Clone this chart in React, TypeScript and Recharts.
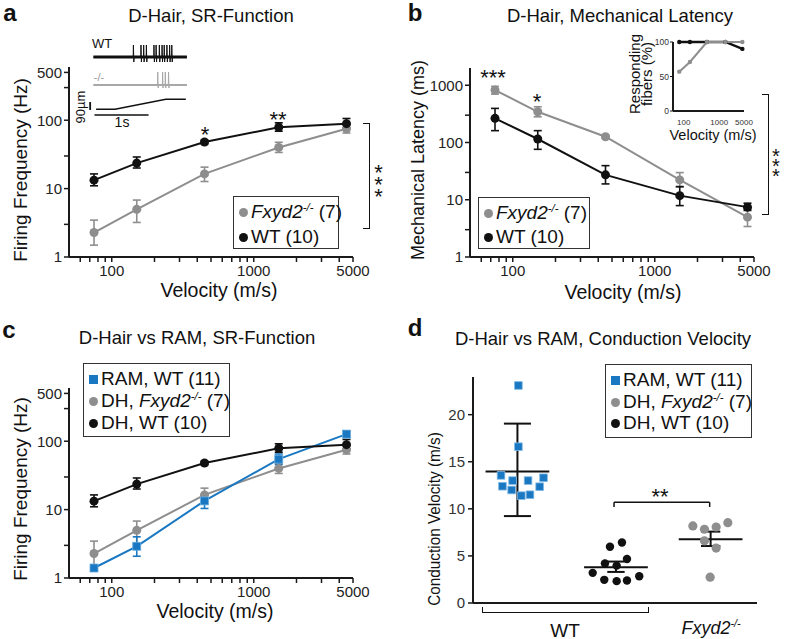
import React from "react";
import {
    LineChart,
    Line,
    XAxis,
    YAxis,
    ErrorBar,
    ScatterChart,
    Scatter,
    ReferenceLine,
} from "recharts";

const FONT = '"Liberation Sans", Arial, Helvetica, sans-serif';
const BLACK = "#111111";
const GREY = "#8e8e8e";
const BLUE = "#1a78c2";
const AXIS = "#1a1a1a";

// ramp velocities, shared by a, b, c
const velocities = [75, 150, 450, 1500, 4500];
const velTicks = [60, 70, 80, 90, 100, 200, 300, 400, 500, 600, 700, 800, 900, 1000, 2000, 3000, 4000, 5000];
const velLabels = [100, 1000, 5000];
const freqTicks = [1, 3, 10, 30, 100, 300, 500];
const freqLabels = [1, 10, 100, 500];
const latTicks = [1, 3, 10, 30, 100, 300, 1000];
const latLabels = [1, 10, 100, 1000];

// firing frequency (Hz): mean, lower end, upper end of error bar
const dhWtFreq = [13.3, 23.6, 48, 79, 89];
const dhWtFreqLo = [11, 20, 45, 69, 77];
const dhWtFreqHi = [16.4, 29, 51, 91.6, 106];
const dhKoFreq = [2.28, 4.98, 16.4, 40, 75];
const dhKoFreqLo = [1.49, 3.2, 12.7, 33.8, 65];
const dhKoFreqHi = [3.46, 6.8, 20.6, 47.6, 86.5];
const ramWtFreq = [1.4, 2.91, 13.4, 54.7, 127];
const ramWtFreqLo = [1.4, 2.08, 10.4, 46, 114];
const ramWtFreqHi = [1.4, 4.0, 16.2, 65, 142];

// mechanical latency (ms)
const koLat = [822, 344, 126, 22.2, 4.97];
const koLatLo = [700, 281, 118, 16.6, 3.41];
const koLatHi = [955, 421, 134, 29.8, 6.86];
const wtLat = [264, 115, 27.2, 11.8, 7.43];
const wtLatLo = [161, 76, 18.9, 7.9, 6.5];
const wtLatHi = [394, 161, 39.4, 17, 8.7];

// responding fibers (%)
const respWt = [100, 100, 100, 100, 90];
const respKo = [57, 71, 100, 100, 100];
const respTicks = [0, 50, 100];

// example recordings: spike times (s), ramp timing (s)
const wtSpikes = [0.74, 0.88, 0.93, 0.98, 1.12, 1.16, 1.22, 1.27, 1.31, 1.36, 1.41, 1.45];
const koSpikes = [1.19, 1.28, 1.33, 1.39];
const rampTimes = [0.05, 0.4, 1.34, 1.71];
const rampDisp = [0, 0, 90, 90];

// conduction velocity (m/s), x = jitter around group
const ramCvX = [0.01, 0.01, -0.17, -0.155, -0.05, -0.06, 0.04, 0.13, 0.11, 0.23, 0.27];
const ramCv = [23.1, 16.6, 13.55, 12.4, 13.0, 12.0, 11.4, 11.5, 13.0, 12.35, 13.3];
const dhWtCvX = [-0.062, 0.062, -0.114, 0.007, 0.114, -0.241, -0.121, 0.007, 0.114, 0.241];
const dhWtCv = [5.97, 6.42, 4.2, 3.97, 4.67, 3.2, 2.46, 2.32, 2.39, 2.84];
const dhKoCvX = [-0.184, -0.064, 0.057, 0.178, -0.064, 0.057, -0.005];
const dhKoCv = [8.18, 7.83, 8.07, 8.53, 6.6, 5.83, 2.74];
const cvMean = [13.97, 3.79, 6.78];
const cvLo = [9.23, 3.3, 6.05];
const cvHi = [19.05, 4.4, 7.58];
const cvTicks = [0, 5, 10, 15, 20];

// layout for d
const groupPos = [0, 1.02, 2.0];
const meanHalf = 0.33;
const capHalf = [0.14, 0.09, 0.1];

const errPair = (m: number[], lo: number[], hi: number[], i: number) => [m[i] - lo[i], hi[i] - m[i]];

const freqRows = velocities.map((v, i) => ({
    v,
    wt: dhWtFreq[i],
    wtErr: errPair(dhWtFreq, dhWtFreqLo, dhWtFreqHi, i),
    ko: dhKoFreq[i],
    koErr: errPair(dhKoFreq, dhKoFreqLo, dhKoFreqHi, i),
    ram: ramWtFreq[i],
    ramErr: errPair(ramWtFreq, ramWtFreqLo, ramWtFreqHi, i),
}));

const latRows = velocities.map((v, i) => ({
    v,
    wt: wtLat[i],
    wtErr: errPair(wtLat, wtLatLo, wtLatHi, i),
    ko: koLat[i],
    koErr: errPair(koLat, koLatLo, koLatHi, i),
}));

const respRows = velocities.map((v, i) => ({ v, wt: respWt[i], ko: respKo[i] }));

// trace drawing offsets (chart units)
function spikeTrace(spikes: number[], base: number, up: number, down: number) {
    const pts = [{ t: 0, y: base }];
    spikes.forEach((s) => {
        pts.push({ t: s - 0.004, y: base });
        pts.push({ t: s, y: base + up });
        pts.push({ t: s + 0.008, y: base - down });
        pts.push({ t: s + 0.014, y: base });
    });
    pts.push({ t: 1.73, y: base });
    return pts;
}
const wtTrace = spikeTrace(wtSpikes, 61, 12, 5);
const koTrace = spikeTrace(koSpikes, 33, 13, 3);
const wtBase = [{ t: 0, y: 61 }, { t: 1.73, y: 61 }];
const koBase = [{ t: 0, y: 33 }, { t: 1.73, y: 33 }];
const rampTrace = rampTimes.map((t, i) => ({ t, y: 8.7 + (rampDisp[i] / 90) * 10 }));
const timeBar = [{ t: 0.02, y: 3 }, { t: 1.02, y: 3 }];
const dispBar = [{ t: -0.06, y: 8 }, { t: -0.06, y: 16 }];

const cvPoints = (xs: number[], ys: number[], g: number) =>
    xs.map((x, i) => ({ x: groupPos[g] + x, y: ys[i] }));

const tickFmt = (labels: number[]) => (v: number) => (labels.includes(v) ? String(v) : "");

const axisLine = { stroke: AXIS, strokeWidth: 2 };
const tickLine = { stroke: AXIS, strokeWidth: 1.5 };
const tickStyle = { fontSize: 15, fill: "#222" };

const circleDot = (c: string, r = 4.3) => ({ r, fill: c, stroke: c, strokeWidth: 0 });

const squareDot = (p: any) => (
    <rect
        key={`sq${p.index}`}
        x={p.cx - 4}
        y={p.cy - 4}
        width={8}
        height={8}
        fill={BLUE}
        stroke="#6aaee0"
        strokeWidth={0.8}
    />
);

function Txt({ x, y, size = 18, rotate = 0, sx = 1, children, style }: any) {
    return (
        <div
            style={{
                position: "absolute",
                left: x,
                top: y,
                transform: `translate(-50%, -50%) rotate(${rotate}deg) scaleX(${sx})`,
                fontSize: size,
                lineHeight: 1,
                whiteSpace: "nowrap",
                color: "#111",
                ...style,
            }}
        >
            {children}
        </div>
    );
}

const Fx = () => (
    <span>
        <i>Fxyd2</i>
        <sup style={{ fontSize: "0.6em", fontStyle: "italic", verticalAlign: "0.6em" }}>-/-</sup>
    </span>
);

// asterisks stacked vertically next to a bracket, kept as one text
function StarColumn({ x, y, text, size = 22 }: any) {
    return (
        <div
            style={{
                position: "absolute",
                left: x,
                top: y,
                transform: "translate(-50%, -50%)",
                fontSize: size,
                lineHeight: "12px",
                writingMode: "vertical-rl",
                textOrientation: "upright",
                letterSpacing: `${-size * 0.6}px`,
                color: "#111",
            }}
        >
            {text}
        </div>
    );
}

function LegendBox({ left, top, width, height, rows }: any) {
    return (
        <div
            style={{
                position: "absolute",
                left,
                top,
                width,
                height,
                border: "1.5px solid #333",
                boxSizing: "border-box",
                background: "#fff",
            }}
        >
            {rows.map((r: any, i: number) => (
                <div
                    key={i}
                    style={{
                        position: "absolute",
                        left: 5,
                        top: r.y - 11,
                        height: 22,
                        display: "flex",
                        alignItems: "center",
                        fontSize: 19,
                        whiteSpace: "nowrap",
                    }}
                >
                    <span
                        style={{
                            display: "inline-block",
                            width: 9,
                            height: 9,
                            borderRadius: r.square ? 0 : "50%",
                            background: r.color,
                            marginRight: 3,
                        }}
                    />
                    {r.label}
                </div>
            ))}
        </div>
    );
}

function Bracket({ left, top, width, height, side }: any) {
    const b = "1.5px solid #111";
    const s: any = { position: "absolute", left, top, width, height, boxSizing: "border-box" };
    if (side === "right") {
        s.borderTop = b;
        s.borderBottom = b;
        s.borderRight = b;
    } else {
        s.borderLeft = b;
        s.borderRight = b;
        s.borderBottom = b;
    }
    return <div style={s} />;
}

function FreqChart({ withRam }: { withRam: boolean }) {
    return (
        <LineChart
            width={380}
            height={300}
            data={freqRows}
            margin={{ top: 67, right: 27, bottom: 13, left: 0 }}
        >
            <XAxis
                dataKey="v"
                type="number"
                scale="log"
                domain={[50, 5000]}
                allowDataOverflow
                ticks={velTicks}
                interval={0}
                tickFormatter={tickFmt(velLabels)}
                axisLine={axisLine}
                tickLine={tickLine}
                tickSize={5}
                tickMargin={3}
                tick={tickStyle}
                height={30}
            />
            <YAxis
                type="number"
                scale="log"
                domain={[1, 600]}
                allowDataOverflow
                ticks={freqTicks}
                interval={0}
                tickFormatter={tickFmt(freqLabels)}
                axisLine={axisLine}
                tickLine={tickLine}
                tickSize={5}
                tickMargin={2}
                tick={tickStyle}
                width={69}
            />
            <Line
                dataKey="ko"
                stroke={GREY}
                strokeWidth={2}
                dot={circleDot(GREY, 4.5)}
                isAnimationActive={false}
            >
                <ErrorBar dataKey="koErr" direction="y" width={4} stroke={GREY} strokeWidth={1.6} />
            </Line>
            {withRam && (
                <Line
                    dataKey="ram"
                    stroke={BLUE}
                    strokeWidth={2}
                    dot={squareDot}
                    isAnimationActive={false}
                >
                    <ErrorBar dataKey="ramErr" direction="y" width={4} stroke={BLUE} strokeWidth={1.6} />
                </Line>
            )}
            <Line
                dataKey="wt"
                stroke={BLACK}
                strokeWidth={2}
                dot={circleDot(BLACK, 4.5)}
                isAnimationActive={false}
            >
                <ErrorBar dataKey="wtErr" direction="y" width={4} stroke={BLACK} strokeWidth={1.6} />
            </Line>
        </LineChart>
    );
}

function TraceInset() {
    return (
        <LineChart width={100} height={80} margin={{ top: 0, right: 0, bottom: 0, left: 0 }}>
            <XAxis dataKey="t" type="number" domain={[-0.1, 1.75]} hide />
            <YAxis type="number" domain={[0, 80]} hide />
            <Line data={wtBase} dataKey="y" stroke="#111" strokeWidth={2.8} dot={false} isAnimationActive={false} />
            <Line data={wtTrace} dataKey="y" stroke="#111" strokeWidth={1} dot={false} isAnimationActive={false} />
            <Line data={koBase} dataKey="y" stroke="#a8a8a8" strokeWidth={2.2} dot={false} isAnimationActive={false} />
            <Line data={koTrace} dataKey="y" stroke="#a8a8a8" strokeWidth={1} dot={false} isAnimationActive={false} />
            <Line data={rampTrace} dataKey="y" stroke="#111" strokeWidth={1.6} dot={false} isAnimationActive={false} />
            <Line data={timeBar} dataKey="y" stroke="#111" strokeWidth={1.6} dot={false} isAnimationActive={false} />
            <Line data={dispBar} dataKey="y" stroke="#111" strokeWidth={1.8} dot={false} isAnimationActive={false} />
        </LineChart>
    );
}

function LatencyChart() {
    return (
        <LineChart
            width={380}
            height={300}
            data={latRows}
            margin={{ top: 68, right: 26, bottom: 13, left: 0 }}
        >
            <XAxis
                dataKey="v"
                type="number"
                scale="log"
                domain={[50, 5000]}
                allowDataOverflow
                ticks={velTicks}
                interval={0}
                tickFormatter={tickFmt(velLabels)}
                axisLine={axisLine}
                tickLine={tickLine}
                tickSize={5}
                tickMargin={3}
                tick={tickStyle}
                height={30}
            />
            <YAxis
                type="number"
                scale="log"
                domain={[1, 2000]}
                allowDataOverflow
                ticks={latTicks}
                interval={0}
                tickFormatter={tickFmt(latLabels)}
                axisLine={axisLine}
                tickLine={tickLine}
                tickSize={5}
                tickMargin={2}
                tick={tickStyle}
                width={70}
            />
            <Line dataKey="ko" stroke={GREY} strokeWidth={2} dot={circleDot(GREY, 4.5)} isAnimationActive={false}>
                <ErrorBar dataKey="koErr" direction="y" width={4} stroke={GREY} strokeWidth={1.6} />
            </Line>
            <Line dataKey="wt" stroke={BLACK} strokeWidth={2} dot={circleDot(BLACK, 4.5)} isAnimationActive={false}>
                <ErrorBar dataKey="wtErr" direction="y" width={4} stroke={BLACK} strokeWidth={1.6} />
            </Line>
        </LineChart>
    );
}

function RespInset() {
    const small = { fontSize: 8.5, fill: "#333" };
    return (
        <LineChart width={115} height={100} data={respRows} margin={{ top: 12, right: 11, bottom: 7, left: 0 }}>
            <XAxis
                dataKey="v"
                type="number"
                scale="log"
                domain={[50, 5000]}
                ticks={velLabels}
                interval={0}
                axisLine={axisLine}
                tickLine={false}
                tickMargin={2}
                tick={{ fontSize: 8, fill: "#333" }}
                height={12}
            />
            <YAxis
                type="number"
                domain={[0, 100]}
                ticks={respTicks}
                interval={0}
                axisLine={axisLine}
                tickLine={{ stroke: AXIS, strokeWidth: 1 }}
                tickSize={3}
                tickMargin={1}
                tick={small}
                width={33}
            />
            <Line dataKey="wt" stroke={BLACK} strokeWidth={2.4} dot={circleDot(BLACK, 2.2)} isAnimationActive={false} />
            <Line dataKey="ko" stroke={GREY} strokeWidth={2} dot={circleDot(GREY, 2.2)} isAnimationActive={false} />
        </LineChart>
    );
}

const squareShape = (p: any) => (
    <rect x={p.cx - 3.8} y={p.cy - 3.8} width={7.6} height={7.6} fill={BLUE} stroke="#7db8e6" strokeWidth={0.8} />
);
const circleShape = (c: string, r: number) => (p: any) => <circle cx={p.cx} cy={p.cy} r={r} fill={c} />;

function CvChart() {
    const segs: any[] = [];
    cvMean.forEach((m, g) => {
        const x = groupPos[g];
        segs.push([{ x: x - meanHalf, y: m }, { x: x + meanHalf, y: m }]);
        segs.push([{ x, y: cvLo[g] }, { x, y: cvHi[g] }]);
        segs.push([{ x: x - capHalf[g], y: cvLo[g] }, { x: x + capHalf[g], y: cvLo[g] }]);
        segs.push([{ x: x - capHalf[g], y: cvHi[g] }, { x: x + capHalf[g], y: cvHi[g] }]);
    });
    const sigY = 10.7;
    const sigDrop = 10.2;
    const sig = [
        [{ x: groupPos[1] - 0.02, y: sigY }, { x: groupPos[2] - 0.01, y: sigY }],
        [{ x: groupPos[1] - 0.02, y: sigY }, { x: groupPos[1] - 0.02, y: sigDrop }],
        [{ x: groupPos[2] - 0.01, y: sigY }, { x: groupPos[2] - 0.01, y: sigDrop }],
    ];
    return (
        <ScatterChart width={380} height={320} margin={{ top: 67, right: 23, bottom: 17, left: 0 }}>
            <XAxis
                dataKey="x"
                type="number"
                domain={[-0.46, 2.48]}
                allowDataOverflow
                tick={false}
                tickLine={false}
                axisLine={axisLine}
                height={10}
            />
            <YAxis
                dataKey="y"
                type="number"
                domain={[0, 24]}
                allowDataOverflow
                ticks={cvTicks}
                interval={0}
                axisLine={axisLine}
                tickLine={tickLine}
                tickSize={5}
                tickMargin={3}
                tick={{ fontSize: 15, fill: "#333" }}
                width={73}
            />
            <Scatter data={cvPoints(ramCvX, ramCv, 0)} shape={squareShape} isAnimationActive={false} />
            <Scatter data={cvPoints(dhWtCvX, dhWtCv, 1)} shape={circleShape(BLACK, 4.2)} isAnimationActive={false} />
            <Scatter data={cvPoints(dhKoCvX, dhKoCv, 2)} shape={circleShape(GREY, 4.6)} isAnimationActive={false} />
            {segs.map((s, i) => (
                <ReferenceLine key={`m${i}`} segment={s} stroke="#111" strokeWidth={2} ifOverflow="visible" />
            ))}
            {sig.map((s, i) => (
                <ReferenceLine key={`s${i}`} segment={s} stroke="#111" strokeWidth={1.5} ifOverflow="visible" />
            ))}
        </ScatterChart>
    );
}

export default function App() {
    const abs = (left: number, top: number): React.CSSProperties => ({ position: "absolute", left, top });
    return (
        <div
            style={{
                position: "absolute",
                left: 0,
                top: 0,
                width: 787,
                height: 639,
                background: "#fff",
                fontFamily: FONT,
                color: "#111",
                overflow: "hidden",
            }}
        >
            <div style={abs(0, 0)}>
                <FreqChart withRam={false} />
            </div>
            <div style={abs(88, 38)}>
                <TraceInset />
            </div>
            <div style={abs(400, 0)}>
                <LatencyChart />
            </div>
            <div style={abs(640, 30)}>
                <RespInset />
            </div>
            <div style={abs(0, 321)}>
                <FreqChart withRam={true} />
            </div>
            <div style={abs(400, 310)}>
                <CvChart />
            </div>

            {/* panel letters and titles */}
            <Txt x={10} y={13} size={24} style={{ fontWeight: 700 }}>a</Txt>
            <Txt x={415} y={13} size={24} style={{ fontWeight: 700 }}>b</Txt>
            <Txt x={9} y={330} size={24} style={{ fontWeight: 700 }}>c</Txt>
            <Txt x={415} y={328} size={24} style={{ fontWeight: 700 }}>d</Txt>
            <Txt x={211} y={16} size={18.5}>D-Hair, SR-Function</Txt>
            <Txt x={620} y={16} size={18.5}>D-Hair, Mechanical Latency</Txt>
            <Txt x={197} y={338} size={18.5}>D-Hair vs RAM, SR-Function</Txt>
            <Txt x={603} y={339} size={18.5}>D-Hair vs RAM, Conduction Velocity</Txt>

            {/* axis titles */}
            <Txt x={219} y={291} size={19.5}>Velocity (m/s)</Txt>
            <Txt x={20} y={170} size={19} rotate={-90}>Firing Frequency (Hz)</Txt>
            <Txt x={623} y={293} size={19.5}>Velocity (m/s)</Txt>
            <Txt x={418} y={160} size={18} rotate={-90}>Mechanical Latency (ms)</Txt>
            <Txt x={215} y={612} size={19.5}>Velocity (m/s)</Txt>
            <Txt x={20} y={489} size={19} rotate={-90}>Firing Frequency (Hz)</Txt>
            <Txt x={434} y={519} size={17} rotate={-90} sx={0.9}>Conduction Velocity (m/s)</Txt>

            {/* trace inset labels */}
            <Txt x={102} y={43} size={13}>WT</Txt>
            <Txt x={99} y={77} size={11} style={{ color: "#999" }}>-/-</Txt>
            <Txt x={80} y={107} size={13} rotate={-90}>90µm</Txt>
            <Txt x={122} y={122} size={14}>1s</Txt>

            {/* responding-fibers inset labels */}
            <Txt x={641} y={74} size={15} rotate={-90} style={{ lineHeight: "12px", textAlign: "center" }}>
                Responding
                <br />
                fibers (%)
            </Txt>
            <Txt x={713} y={135} size={14.5}>Velocity (m/s)</Txt>

            {/* significance */}
            <Txt x={205} y={135} size={22}>*</Txt>
            <Txt x={278} y={120} size={22}>**</Txt>
            <Bracket left={363} top={123} width={7} height={106} side="right" />
            <StarColumn x={378} y={178} text="***" />
            <Txt x={493} y={78} size={22}>***</Txt>
            <Txt x={537} y={102} size={22}>*</Txt>
            <Bracket left={762} top={94} width={7} height={121} side="right" />
            <StarColumn x={776} y={160} text="***" size={20} />
            <Txt x={660} y={497} size={22}>**</Txt>

            {/* d group labels */}
            <Bracket left={482} top={607} width={167} height={6} side="bottom" />
            <Txt x={565} y={630} size={19}>WT</Txt>
            <Txt x={711} y={628} size={18}>
                <Fx />
            </Txt>

            {/* legends */}
            <LegendBox
                left={233}
                top={196}
                width={106}
                height={53}
                rows={[
                    { color: GREY, label: <span><Fx /> (7)</span>, y: 15 },
                    { color: BLACK, label: "WT (10)", y: 40 },
                ]}
            />
            <LegendBox
                left={478}
                top={197}
                width={112}
                height={52}
                rows={[
                    { color: GREY, label: <span><Fx /> (7)</span>, y: 15 },
                    { color: BLACK, label: "WT (10)", y: 39 },
                ]}
            />
            <LegendBox
                left={83}
                top={363}
                width={147}
                height={74}
                rows={[
                    { color: BLUE, square: true, label: "RAM, WT (11)", y: 15 },
                    { color: GREY, label: <span>DH, <Fx /> (7)</span>, y: 37 },
                    { color: BLACK, label: "DH, WT (10)", y: 59 },
                ]}
            />
            <LegendBox
                left={605}
                top={364}
                width={147}
                height={74}
                rows={[
                    { color: BLUE, square: true, label: "RAM, WT (11)", y: 15 },
                    { color: GREY, label: <span>DH, <Fx /> (7)</span>, y: 37 },
                    { color: BLACK, label: "DH, WT (10)", y: 58 },
                ]}
            />
        </div>
    );
}
